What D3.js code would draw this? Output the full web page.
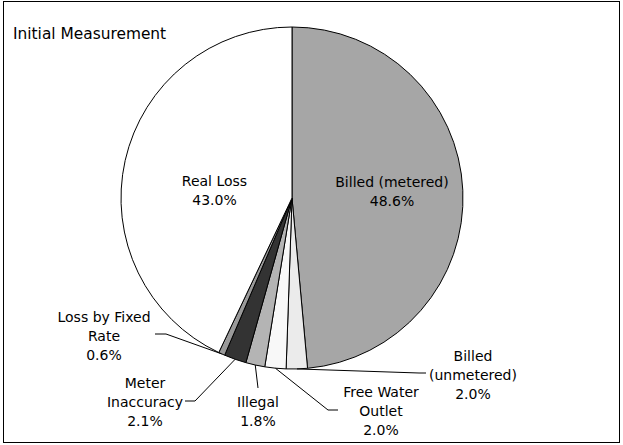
<!DOCTYPE html>
<html>
<head>
<meta charset="utf-8">
<script src="https://cdnjs.cloudflare.com/ajax/libs/d3/7.8.5/d3.min.js"></script>
<style>
  html, body { margin: 0; padding: 0; background: #fff; }
  svg { display: block; }
  text { font-family: "DejaVu Sans", "Liberation Sans", sans-serif; fill: #000; }
</style>
</head>
<body>
<svg id="chart" width="623" height="445"></svg>
<script>
// Water balance breakdown, initial measurement (percent of system input)
const title = "Initial Measurement";
const categories = [
  "Billed (metered)",
  "Billed (unmetered)",
  "Free Water Outlet",
  "Illegal",
  "Meter Inaccuracy",
  "Loss by Fixed Rate",
  "Real Loss"
];
const shares = [48.6, 2.0, 2.0, 1.8, 2.1, 0.6, 43.0];
const fills = ["#a6a6a6", "#ebebeb", "#f8f8f8", "#b4b4b4", "#333333", "#9a9a9a", "#ffffff"];

// Label text broken into lines
const labelLines = [
  ["Billed (metered)"],
  ["Billed", "(unmetered)"],
  ["Free Water", "Outlet"],
  ["Illegal"],
  ["Meter", "Inaccuracy"],
  ["Loss by Fixed", "Rate"],
  ["Real Loss"]
];
// Label placement: centre x, first baseline y, and leader path (elbow, end) for outside labels
const placement = [
  { x: 392, y: 187 },
  { x: 473, y: 361, leader: [[419, 373], [426, 373]] },
  { x: 381, y: 397, leader: [[328, 410], [338, 410]] },
  { x: 258, y: 407, leader: [[258, 388]] },
  { x: 145, y: 388, leader: [[195, 401], [185, 401]] },
  { x: 104, y: 322, leader: [[166, 334], [155, 334]] },
  { x: 214.5, y: 186 }
];

const svg = d3.select("#chart");
const W = 623, H = 445;

// Frame
svg.append("rect")
  .attr("x", 3.5).attr("y", 1.5)
  .attr("width", W - 7).attr("height", H - 4)
  .attr("fill", "#fff").attr("stroke", "#000").attr("stroke-width", 1);

svg.append("text")
  .attr("x", 13).attr("y", 39)
  .attr("font-size", 15.4)
  .text(title);

const cx = 292, cy = 198, r = 171;
const g = svg.append("g").attr("transform", `translate(${cx},${cy})`);

const data = categories.map((c, i) => ({ name: c, value: shares[i], i }));
const pie = d3.pie().value(d => d.value).sort(null);
const arcs = pie(data);
const arc = d3.arc().innerRadius(0).outerRadius(r);

g.selectAll("path.slice")
  .data(arcs)
  .join("path")
  .attr("class", "slice")
  .attr("d", arc)
  .attr("fill", d => fills[d.data.i])
  .attr("stroke", "#000")
  .attr("stroke-width", 1)
  .attr("stroke-linejoin", "round");

const fmt = v => v.toFixed(1) + "%";
const lineH = 19.2;

arcs.forEach(a => {
  const i = a.data.i;
  const lines = labelLines[i].concat([fmt(a.data.value)]);
  const p = placement[i];
  const t = svg.append("text").attr("text-anchor", "middle").attr("font-size", 14);
  lines.forEach((s, k) => {
    t.append("tspan").attr("x", p.x).attr("y", p.y + k * lineH).text(s);
  });
  if (p.leader) {
    // Leader from the slice's outer edge to the label
    const mid = (a.startAngle + a.endAngle) / 2;
    const px = cx + r * Math.sin(mid), py = cy - r * Math.cos(mid);
    svg.append("path")
      .attr("d", d3.line()([[px, py]].concat(p.leader)))
      .attr("fill", "none")
      .attr("stroke", "#000")
      .attr("stroke-width", 1);
  }
});
</script>
</body>
</html>
